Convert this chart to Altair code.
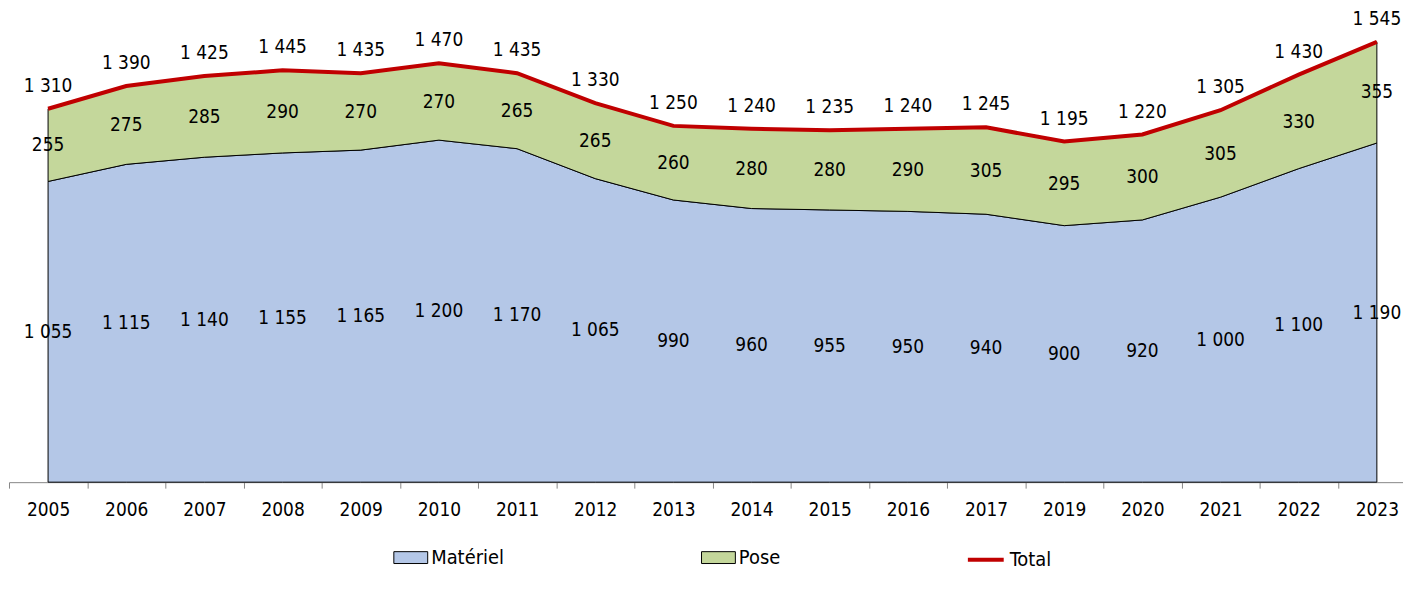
import altair as alt
import pandas as pd

years = ["2005", "2006", "2007", "2008", "2009", "2010", "2011", "2012", "2013",
         "2014", "2015", "2016", "2017", "2019", "2020", "2021", "2022", "2023"]
materiel = [1055, 1115, 1140, 1155, 1165, 1200, 1170, 1065, 990, 960, 955, 950, 940, 900, 920, 1000, 1100, 1190]
pose = [255, 275, 285, 290, 270, 270, 265, 265, 260, 280, 280, 290, 305, 295, 300, 305, 330, 355]
total = [1310, 1390, 1425, 1445, 1435, 1470, 1435, 1330, 1250, 1240, 1235, 1240, 1245, 1195, 1220, 1305, 1430, 1545]

area_series = ["Matériel", "Pose"]
area_colors = ["#b4c7e7", "#c4d79b"]
line_series = ["Total"]
line_colors = ["#c00000"]

FONT = "DejaVu Sans Condensed, DejaVu Sans, sans-serif"

W = 1400          # visible plot width
STEP = 78.5       # width of one year slot in px
n = len(years)


def fmt(v):
    return f"{v:,}".replace(",", " ")


rows = []
for i, yr in enumerate(years):
    rows.append({"idx": i, "Année": yr, "Série": "Matériel", "Valeur": materiel[i], "ordre": 0,
                 "mid": materiel[i] / 2, "lab": fmt(materiel[i])})
    rows.append({"idx": i, "Année": yr, "Série": "Pose", "Valeur": pose[i], "ordre": 1,
                 "mid": materiel[i] + pose[i] / 2, "lab": fmt(pose[i])})
area_df = pd.DataFrame(rows)
tot_df = pd.DataFrame({"idx": list(range(n)), "Année": years, "Série": ["Total"] * n,
                       "Valeur": total, "lab": [fmt(v) for v in total]})

label_expr = "[" + ",".join(f"'{y}'" for y in years) + "][datum.value]"
x_scale = alt.Scale(domain=[-0.5, -0.5 + W / STEP], nice=False, zero=False)
x_enc = alt.X(
    "idx:Q", scale=x_scale,
    axis=alt.Axis(title=None, values=list(range(n)), labelExpr=label_expr, labelAngle=0,
                  labelFont=FONT, labelFontSize=19, labelColor="black", labelFlush=False,
                  labelOverlap=False, domainColor="#868686", tickColor="#868686", tickSize=6,
                  tickOffset=-STEP / 2, labelOffset=STEP / 2, labelPadding=12, grid=False),
)
x_plain = alt.X("idx:Q", scale=x_scale)
y_scale = alt.Scale(domain=[0, 1600], nice=False, zero=True)

rect_path = "M-1,-0.35L1,-0.35L1,0.35L-1,0.35Z"
area_legend = alt.Legend(
    orient="none", legendX=386, legendY=516, direction="horizontal", title=None,
    columnPadding=195, labelFont=FONT, labelFontSize=20, labelColor="black", labelOffset=3,
    symbolSize=1156, symbolType=rect_path, symbolStrokeColor="black", symbolStrokeWidth=1,
    symbolOpacity=1,
)
line_legend = alt.Legend(
    orient="none", legendX=961, legendY=516, direction="horizontal", title=None,
    labelFont=FONT, labelFontSize=20, labelColor="black", labelOffset=4,
    symbolSize=1296, symbolType="stroke", symbolStrokeWidth=4,
)

areas = alt.Chart(area_df).mark_area(stroke="black", strokeWidth=1, opacity=1).encode(
    x=x_enc,
    y=alt.Y("Valeur:Q", stack="zero", scale=y_scale, axis=None),
    fill=alt.Fill("Série:N", scale=alt.Scale(domain=area_series, range=area_colors), legend=area_legend),
    order=alt.Order("ordre:Q"),
)

line = alt.Chart(tot_df).mark_line(strokeWidth=4).encode(
    x=x_plain,
    y=alt.Y("Valeur:Q", scale=y_scale, axis=None),
    stroke=alt.Stroke("Série:N", scale=alt.Scale(domain=line_series, range=line_colors), legend=line_legend),
)

txt = dict(font=FONT, fontSize=19, color="black")
mat_labels = alt.Chart(area_df).transform_filter(alt.datum["Série"] == "Matériel").mark_text(**txt).encode(
    x=x_plain, y=alt.Y("mid:Q", scale=y_scale, axis=None), text="lab:N")
pose_labels = alt.Chart(area_df).transform_filter(alt.datum["Série"] == "Pose").mark_text(**txt).encode(
    x=x_plain, y=alt.Y("mid:Q", scale=y_scale, axis=None), text="lab:N")
tot_labels = alt.Chart(tot_df).mark_text(dy=-23, **txt).encode(
    x=x_plain, y=alt.Y("Valeur:Q", scale=y_scale, axis=None), text="lab:N")

chart = alt.layer(areas, line, mat_labels, pose_labels, tot_labels).resolve_scale(
    fill="independent", stroke="independent"
).properties(
    width=W, height=458,
    padding={"left": 1, "top": 17, "right": 0, "bottom": 86},
    autosize=alt.AutoSizeParams(type="none"),
    background="white",
).configure_view(stroke=None)

chart.save("out.html", embed_options={"renderer": "svg", "actions": False})
